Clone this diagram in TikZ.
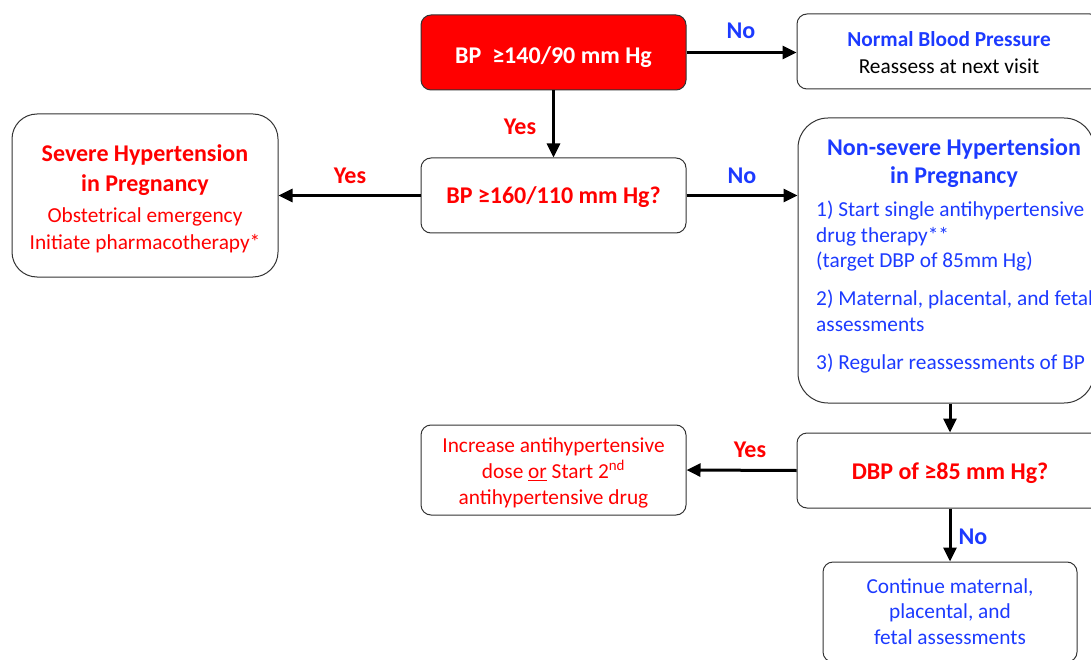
\documentclass[tikz,border=0pt]{standalone}
\usepackage{fontspec}
\setmainfont{Carlito}
\usetikzlibrary{arrows.meta}
\definecolor{hred}{RGB}{255,0,0}
\definecolor{hblue}{RGB}{28,58,255}
\tikzset{
  box/.style={draw=black!80, line width=1pt, rounded corners=10pt, align=center, inner sep=0pt},
  txt/.style={inner sep=0pt, anchor=base},
  conn/.style={-{Triangle[length=14pt,width=13pt]}, line width=3pt},
  yes/.style={text=hred, font=\fontsize{24}{29}\selectfont\bfseries},
  no/.style={text=hblue, font=\fontsize{24}{29}\selectfont\bfseries},
  big/.style={font=\fontsize{24}{28}\selectfont\bfseries},
  small/.style={font=\fontsize{21.33}{25.5}\selectfont}
}
\begin{document}
\begin{tikzpicture}[x=1pt,y=-1pt]
\useasboundingbox (0,0) rectangle (1091,660);
\clip (0,0) rectangle (1091,660);

% boxes
\node[box, fill=hred, text=white, big, text height=22pt, text depth=0pt, minimum width=265pt, minimum height=75pt] (q1) at (553.5,52.5) {BP\ \ ≥140/90 mm Hg};
\node[box, minimum width=303pt, minimum height=75pt] (normal) at (948.5,51.5) {};
\node[box, text=hred, big, text height=17pt, text depth=0pt, minimum width=265pt, minimum height=75pt] (q2) at (553.5,195.5) {BP ≥160/110 mm Hg?};
\node[box, rounded corners=25pt, minimum width=266pt, minimum height=163pt] (severe) at (145,195.5) {};
\node[box, rounded corners=30pt, minimum width=296pt, minimum height=285pt] (nonsevere) at (946,260.5) {};
\node[box, text=hred, big, text height=18pt, text depth=0pt, minimum width=306pt, minimum height=75pt] (q3) at (950,470.5) {DBP of ≥85 mm Hg?};
\node[box, minimum width=265pt, minimum height=90pt] (increase) at (553.5,470) {};
\node[box, minimum width=254pt, minimum height=100pt] (cont) at (950,612) {};

% box texts
\node[txt, small, align=center, font=\fontsize{21.33}{26.6}\selectfont] (normaltxt) at (949,73.3)
  {\textcolor{hblue}{\bfseries Normal Blood Pressure}\\Reassess at next visit};
\node[txt, text=hred, align=center, font=\fontsize{24}{29.5}\selectfont\bfseries] (sevtitle) at (145,191.5)
  {Severe Hypertension\\in Pregnancy};
\node[txt, text=hred, align=center, font=\fontsize{21.33}{26}\selectfont] (sevtxt) at (145,249)
  {Obstetrical emergency\\Initiate pharmacotherapy*};
\node[txt, text=hblue, big, align=center] (nstitle) at (954,184) {Non-severe Hypertension\\in Pregnancy};
\node[txt, text=hblue, small, align=left, anchor=base west] (nsitems) at (816,369)
  {1) Start single antihypertensive\\drug therapy**\\(target DBP of 85mm Hg)\\[12.5pt]
   2) Maternal, placental, and fetal\\assessments\\[12.5pt]
   3) Regular reassessments of BP};
\node[txt, text=hred, small, align=center, font=\fontsize{21.33}{26}\selectfont] (inctxt) at (553.5,504.5)
  {Increase antihypertensive\\dose \underline{or} Start 2\textsuperscript{nd}\\antihypertensive drug};
\node[txt, text=hblue, align=center, font=\fontsize{21.33}{25.5}\selectfont] (conttxt) at (950,644)
  {Continue maternal,\\placental, and\\fetal assessments};

% arrows
\draw[conn] (q1.east) -- (q1.east -| normal.west);
\draw[conn] (q1.south) -- (q2.north);
\draw[conn] (q2.west) -- (severe.east);
\draw[conn] (q2.east) -- (q2.east -| nonsevere.west);
\draw[conn] (q3.north |- nonsevere.south) -- (q3.north);
\draw[conn] (q3.west) -- (increase.east);
\draw[conn] (q3.south) -- (cont.north);

% labels
\node[no] (no1) at (741,31) {No};
\node[yes] (yes1) at (520,127) {Yes};
\node[yes] (yes2) at (350,176) {Yes};
\node[no] (no2) at (742,176) {No};
\node[yes] (yes3) at (750,450) {Yes};
\node[no] (no3) at (973,537) {No};
\end{tikzpicture}
\end{document}
